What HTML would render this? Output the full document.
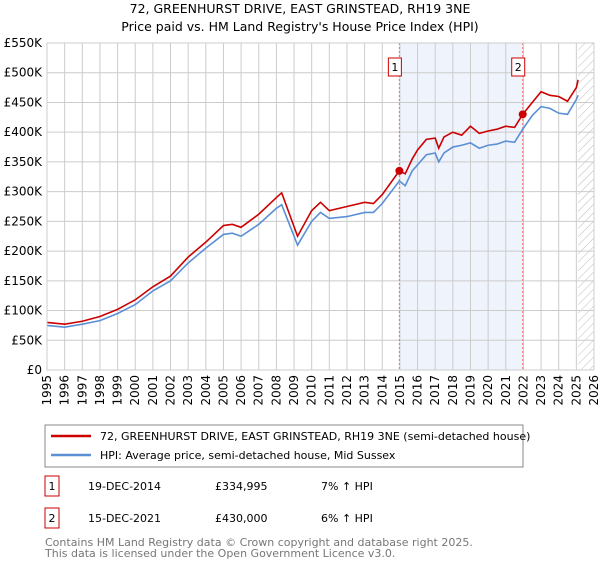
<!DOCTYPE html>
<html><head><meta charset="utf-8"><style>
body{margin:0;background:#fff;font-family:"Liberation Sans","DejaVu Sans",sans-serif;}
svg text{font-family:"DejaVu Sans","Liberation Sans",sans-serif;}
</style></head><body>
<svg id="c" width="600" height="560" xmlns="http://www.w3.org/2000/svg">
<defs><pattern id="hatch" width="6" height="6" patternUnits="userSpaceOnUse" patternTransform="rotate(45)"><line x1="0" y1="0" x2="0" y2="6" stroke="#bbb" stroke-width="1"/></pattern></defs>
<text x="300" y="13" text-anchor="middle" font-size="12.5" fill="#000">72, GREENHURST DRIVE, EAST GRINSTEAD, RH19 3NE</text>
<text x="300" y="31" text-anchor="middle" font-size="12.5" fill="#000">Price paid vs. HM Land Registry's House Price Index (HPI)</text>
<g id="plot"></g>
<rect x="45" y="425" width="478" height="42" fill="#fff" stroke="#888"/>
<line x1="51" y1="436" x2="91" y2="436" stroke="#cc0000" stroke-width="2.5"/>
<text x="100" y="440" font-size="11">72, GREENHURST DRIVE, EAST GRINSTEAD, RH19 3NE (semi-detached house)</text>
<line x1="51" y1="455" x2="91" y2="455" stroke="#5b8fd6" stroke-width="2.5"/>
<text x="100" y="459" font-size="11">HPI: Average price, semi-detached house, Mid Sussex</text>
<g>
<rect x="45" y="476" width="14" height="20" fill="#fff" stroke="#cc0000"/><text x="52" y="490" font-size="11" text-anchor="middle">1</text>
<text x="88" y="490" font-size="11">19-DEC-2014</text><text x="215" y="490" font-size="11">£334,995</text><text x="321" y="490" font-size="11">7% ↑ HPI</text></g>
<g>
<rect x="45" y="508" width="14" height="20" fill="#fff" stroke="#cc0000"/><text x="52" y="522" font-size="11" text-anchor="middle">2</text>
<text x="88" y="522" font-size="11">15-DEC-2021</text><text x="215" y="522" font-size="11">£430,000</text><text x="321" y="522" font-size="11">6% ↑ HPI</text></g>
<text x="45" y="546" font-size="11" fill="#777">Contains HM Land Registry data © Crown copyright and database right 2025.</text>
<text x="45" y="557" font-size="11" fill="#777">This data is licensed under the Open Government Licence v3.0.</text>
</svg>
<script>
const years=[1995,1996,1997,1998,1999,2000,2001,2002,2003,2004,2005,2005.5,2006,2007,2008,2008.3,2009.2,2010,2010.5,2011,2012,2013,2013.5,2014,2014.97,2015.3,2015.7,2016,2016.5,2017,2017.2,2017.5,2018,2018.5,2019,2019.5,2020,2020.5,2021,2021.5,2021.96,2022.5,2023,2023.5,2024,2024.5,2025,2025.1];
const hpiValues=[75,72,77,83,95,110,133,150,180,205,228,230,225,245,272,278,210,250,265,255,258,265,265,280,318,310,335,345,362,365,350,365,375,378,382,373,378,380,385,383,405,428,443,440,432,430,455,462];
const propertyValues=[80,77,82,90,102,118,140,158,190,215,243,245,240,262,290,298,225,268,282,268,275,282,280,295,335,330,355,370,388,390,373,392,400,395,410,398,402,405,410,408,430,450,468,462,460,452,475,488];
const saleYears=[2014.97,2021.96];
const salePrices=[335,430];
const yTicks=[0,50,100,150,200,250,300,350,400,450,500,550];
const xTicks=[1995,1996,1997,1998,1999,2000,2001,2002,2003,2004,2005,2006,2007,2008,2009,2010,2011,2012,2013,2014,2015,2016,2017,2018,2019,2020,2021,2022,2023,2024,2025,2026];
const X0=47,X1=594,Y0=370,Y1=43;
const xs=v=>X0+(v-1995)/31*(X1-X0);
const ys=v=>Y0-v/550*(Y0-Y1);
const g=document.getElementById('plot');const NS='http://www.w3.org/2000/svg';
function mk(t,a,p){const e=document.createElementNS(NS,t);for(const k in a)e.setAttribute(k,a[k]);(p||g).appendChild(e);return e;}
let r=mk('rect',{x:xs(saleYears[0]),y:Y1,width:xs(saleYears[1])-xs(saleYears[0]),height:Y0-Y1,fill:'#eef3fc'});


let h=mk('rect',{x:xs(2025.1),y:Y1,width:X1-xs(2025.1),height:Y0-Y1,fill:'url(#hatch)'});


yTicks.forEach(v=>{let l=mk('line',{x1:X0,x2:X1,y1:ys(v),y2:ys(v),stroke:'#ccc'});


let t=mk('text',{x:X0-5,y:ys(v)+4,'text-anchor':'end','font-size':'12'});t.textContent='£'+(v?v+'K':'0');

});
xTicks.forEach(v=>{let l=mk('line',{x1:xs(v),x2:xs(v),y1:Y1,y2:Y0,stroke:'#ccc'});


let t=mk('text',{x:0,y:0,'text-anchor':'end','font-size':'12',transform:`translate(${xs(v)+4},${Y0+5}) rotate(-90)`});t.textContent=v;

});
saleYears.forEach((v,i)=>{let l=mk('line',{x1:xs(v),x2:xs(v),y1:Y1,y2:Y0,stroke:'#f07070','stroke-dasharray':'2,2'});


let b=mk('rect',{x:xs(v)-11,y:Y1+15,width:13,height:18,fill:'#fff',stroke:'#cc0000'});


let t=mk('text',{x:xs(v)-4.5,y:Y1+28,'text-anchor':'middle','font-size':'11'});t.textContent=i+1;

});
function line(vals,col,name){let p=mk('polyline',{points:years.map((y,i)=>xs(y)+','+ys(vals[i])).join(' '),fill:'none',stroke:col,'stroke-width':1.6});

}
line(hpiValues,'#5b8fd6','hpi-line');
line(propertyValues,'#cc0000','property-line');
saleYears.forEach((v,i)=>{let c=mk('circle',{cx:xs(v),cy:ys(salePrices[i]),r:4,fill:'#cc0000'});

});
let f=mk('rect',{x:X0,y:Y1,width:X1-X0,height:Y0-Y1,fill:'none',stroke:'#ccc'});


</script>
</body></html>
